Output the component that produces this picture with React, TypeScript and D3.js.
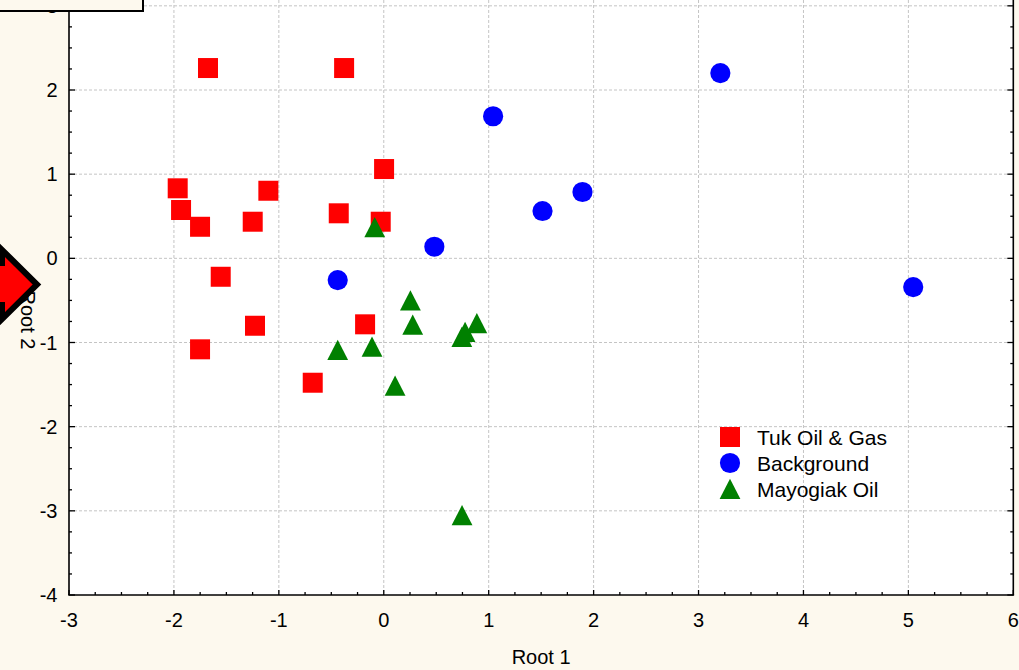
import React from "react";
import * as d3 from "d3";

const tukX = [-1.675, -0.378, -1.964, -1.932, -1.751, -1.249, -1.1, -0.429, 0.003, -0.029, -1.554, -1.227, -1.751, -0.178, -0.677];
const tukY = [2.261, 2.261, 0.832, 0.574, 0.375, 0.435, 0.803, 0.535, 1.061, 0.435, -0.219, -0.801, -1.081, -0.784, -1.478];
const bgX = [3.208, 1.042, 1.894, 1.513, 0.482, -0.439, 5.046];
const bgY = [2.201, 1.688, 0.788, 0.562, 0.138, -0.258, -0.341];
const mayX = [-0.086, 0.254, 0.276, 0.887, 0.775, 0.744, -0.439, -0.112, 0.108, 0.746];
const mayY = [0.368, -0.501, -0.789, -0.772, -0.876, -0.935, -1.089, -1.05, -1.514, -3.053];
const xTicks = [-3, -2, -1, 0, 1, 2, 3, 4, 5, 6];
const yTicks = [-4, -3, -2, -1, 0, 1, 2, 3];
const legendLabels = ["Tuk Oil & Gas", "Background", "Mayogiak Oil"];

const W = 1019;
const H = 670;
const left = 69;
const right = 1013.3;
const bottom = 595;
const font = "'Liberation Sans', Arial, sans-serif";
const cream = "#fdf9ee";

const x = d3.scaleLinear().domain([-3, 6]).range([left, right]);
const y = d3.scaleLinear().domain([-4, 2]).range([bottom, 90]);

const squarePath = d3.symbol().type(d3.symbolSquare).size(400)() as string;
const circlePath = d3.symbol().type(d3.symbolCircle).size(320)() as string;
const triPath = "M0,-10.3L10.4,10L-10.4,10Z";

const minorX = d3.range(-3, 6.001, 0.25);
const minorY = d3.range(-4, 3.301, 0.25);

export default function App() {
  const tuk = tukX.map((v, i) => [v, tukY[i]]);
  const bg = bgX.map((v, i) => [v, bgY[i]]);
  const may = mayX.map((v, i) => [v, mayY[i]]);
  return (
    <svg width={W} height={H} style={{ position: "absolute", left: 0, top: 0 }} fontFamily={font}>
      <rect x={0} y={0} width={W} height={H} fill={cream} />
      <rect x={left} y={-5} width={right - left} height={bottom + 5} fill="#ffffff" />
      {/* gridlines */}
      {xTicks.slice(1, -1).map((t) => (
        <line key={"gx" + t} x1={x(t)} x2={x(t)} y1={-5} y2={bottom} stroke="#c4c4c4" strokeWidth={1} strokeDasharray="3,2" />
      ))}
      {yTicks.slice(1).map((t) => (
        <line key={"gy" + t} x1={left} x2={right} y1={y(t)} y2={y(t)} stroke="#c4c4c4" strokeWidth={1} strokeDasharray="3,2" />
      ))}
      {/* ticks */}
      {minorX.map((t, i) => {
        const major = Math.abs(t - Math.round(t)) < 1e-6;
        return <line key={"tx" + i} x1={x(t)} x2={x(t)} y1={bottom} y2={bottom - (major ? 5 : 3)} stroke="#000" strokeWidth={1.3} />;
      })}
      {minorY.map((t, i) => {
        const major = Math.abs(t - Math.round(t)) < 1e-6;
        const len = major ? 6 : 3;
        return (
          <g key={"ty" + i}>
            <line x1={left} x2={left + len} y1={y(t)} y2={y(t)} stroke="#000" strokeWidth={1.3} />
            <line x1={right} x2={right - len} y1={y(t)} y2={y(t)} stroke="#000" strokeWidth={1.3} />
          </g>
        );
      })}
      {/* axis lines */}
      <line x1={left} x2={left} y1={-5} y2={bottom} stroke="#000" strokeWidth={1.6} />
      <line x1={right} x2={right} y1={-5} y2={bottom} stroke="#000" strokeWidth={1.6} />
      <line x1={left - 0.8} x2={right + 0.8} y1={bottom} y2={bottom} stroke="#000" strokeWidth={1.6} />
      {/* tick labels */}
      {xTicks.map((t) => (
        <text key={"lx" + t} x={x(t)} y={627} fontSize={20} textAnchor="middle" fill="#000">{t}</text>
      ))}
      {yTicks.map((t) => (
        <text key={"ly" + t} x={57.5} y={y(t) + 7} fontSize={20} textAnchor="end" fill="#000">{t}</text>
      ))}
      <text x={(left + right) / 2} y={664} fontSize={20} textAnchor="middle" fill="#000">Root 1</text>
      <text transform="translate(21,320) rotate(90)" fontSize={20} textAnchor="middle" fill="#000">Root 2</text>
      {/* points */}
      {tuk.map((d, i) => (
        <path key={"s" + i} d={squarePath} transform={`translate(${x(d[0])},${y(d[1])})`} fill="#ff0000" />
      ))}
      {bg.map((d, i) => (
        <path key={"c" + i} d={circlePath} transform={`translate(${x(d[0])},${y(d[1])})`} fill="#0000ff" />
      ))}
      {may.map((d, i) => (
        <path key={"t" + i} d={triPath} transform={`translate(${x(d[0])},${y(d[1])})`} fill="#008000" />
      ))}
      {/* legend */}
      <g>
        <path d={squarePath} transform="translate(730,437)" fill="#ff0000" />
        <path d={circlePath} transform="translate(730,463)" fill="#0000ff" />
        <path d={triPath} transform="translate(730,489)" fill="#008000" />
        {legendLabels.map((l, i) => (
          <text key={l} x={757} y={445 + i * 26 - (i > 0 ? 0.5 : 0)} fontSize={21} fill="#000">{l}</text>
        ))}
      </g>
      {/* overlays at the left edge */}
      <path d="M-12,236L37,284.5L-12,333Z" fill="#ff0000" stroke="#000" strokeWidth={6} strokeLinejoin="miter" />
      <rect x={0} y={250} width={5} height={16} fill="#000" />
      <rect x={0} y={302} width={5} height={15} fill="#000" />
      <rect x={-2} y={-2} width={145} height={13} fill={cream} stroke="#000" strokeWidth={2} />
    </svg>
  );
}
